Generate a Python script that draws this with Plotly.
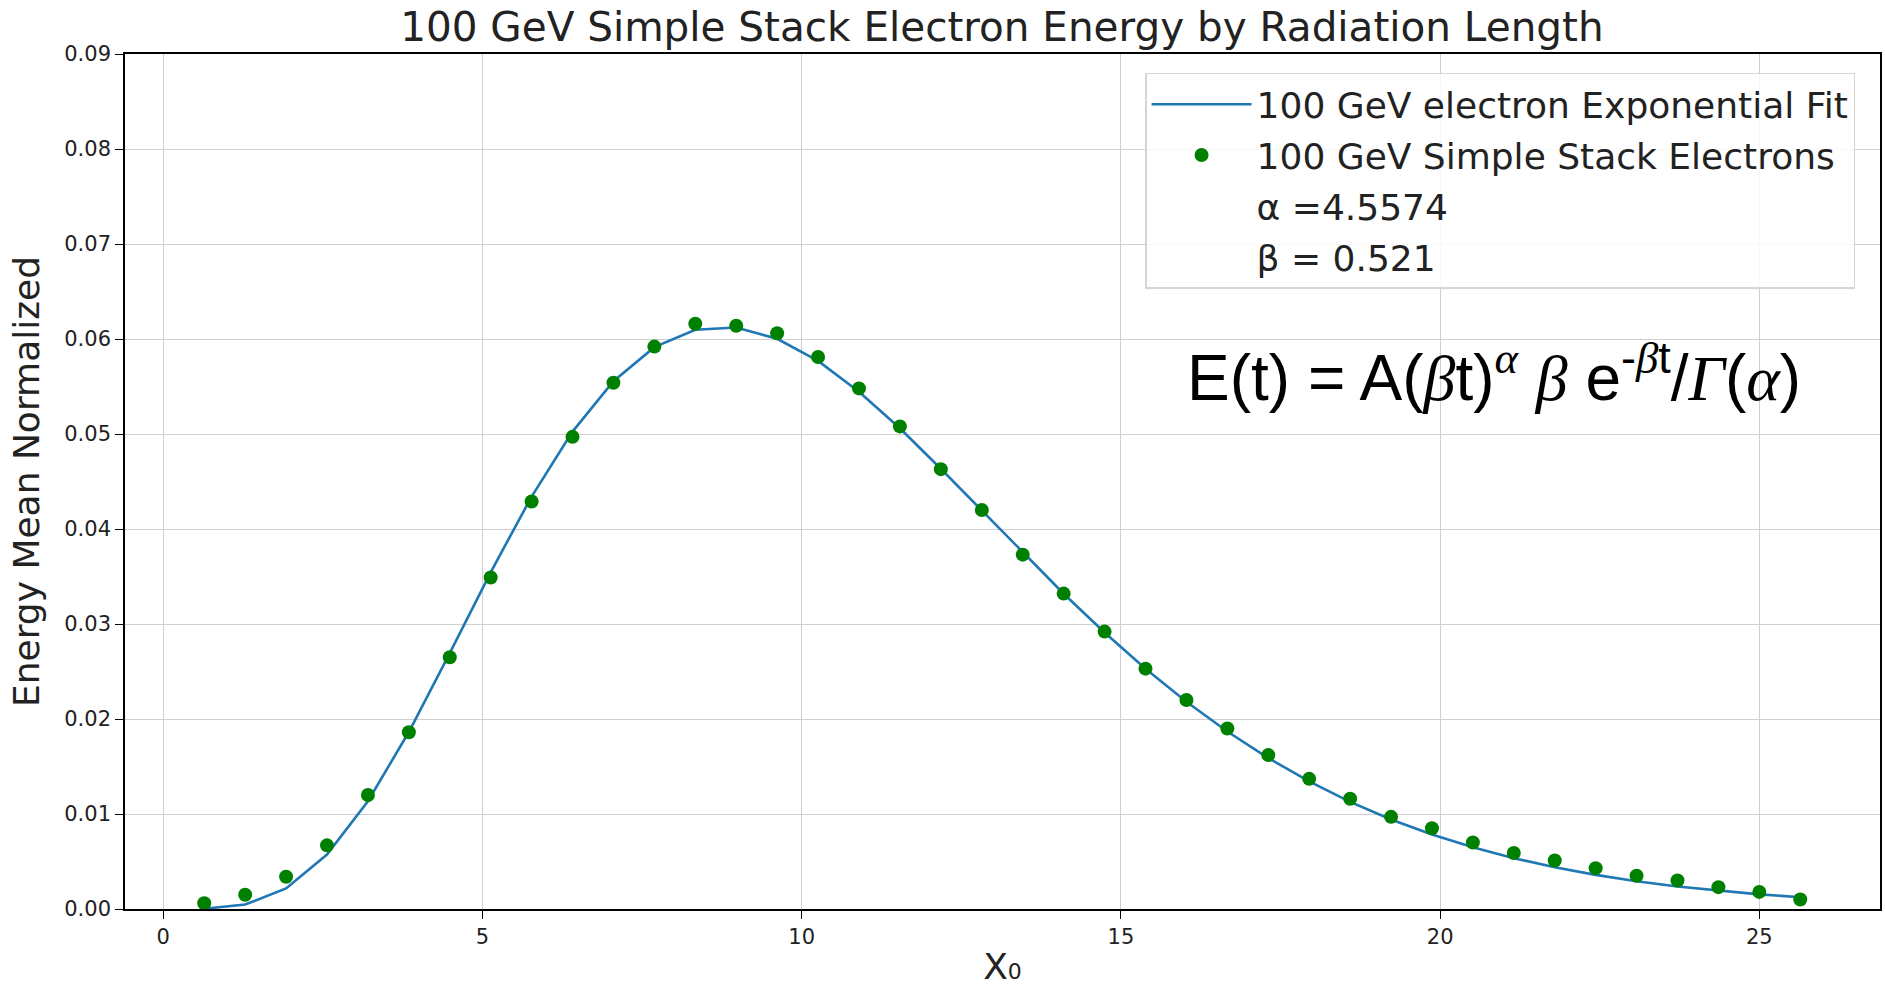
import plotly.graph_objects as go

# Data
x_depth = [0.641, 1.282, 1.923, 2.564, 3.205, 3.846, 4.487, 5.128, 5.769, 6.410,
           7.051, 7.692, 8.333, 8.974, 9.615, 10.256, 10.897, 11.538, 12.179, 12.821,
           13.462, 14.103, 14.744, 15.385, 16.026, 16.667, 17.308, 17.949, 18.590, 19.231,
           19.872, 20.513, 21.154, 21.795, 22.436, 23.077, 23.718, 24.359, 25.000, 25.641]

energy_data = [0.0006, 0.0015, 0.0034, 0.0067, 0.0120, 0.0186, 0.0265, 0.0349, 0.0429, 0.0497,
               0.0554, 0.0592, 0.0616, 0.0614, 0.0606, 0.0581, 0.0548, 0.0508, 0.0463, 0.0420,
               0.0373, 0.0332, 0.0292, 0.0253, 0.0220, 0.0190, 0.0162, 0.0137, 0.0116, 0.0097,
               0.0085, 0.0070, 0.0059, 0.0051, 0.0043, 0.0035, 0.0030, 0.0023, 0.0018, 0.0010]

energy_fit = [0.00003, 0.00047, 0.00216, 0.00573, 0.01134, 0.01863, 0.02693, 0.03544, 0.04341, 0.05025,
              0.05556, 0.05914, 0.06097, 0.06121, 0.06002, 0.05769, 0.05445, 0.05061, 0.04634, 0.04192,
              0.03749, 0.03319, 0.02910, 0.02529, 0.02182, 0.01868, 0.01589, 0.01343, 0.01128, 0.00943,
              0.00785, 0.00649, 0.00535, 0.00439, 0.00359, 0.00292, 0.00237, 0.00192, 0.00154, 0.00124]

x_ticks = [0, 5, 10, 15, 20, 25]
y_ticks = [0.00, 0.01, 0.02, 0.03, 0.04, 0.05, 0.06, 0.07, 0.08, 0.09]

fit_name = "100 GeV electron Exponential Fit"
data_name = "100 GeV Simple Stack Electrons"
alpha_label = "\u03b1 =4.5574"
beta_label = "\u03b2 = 0.521"

fig = go.Figure()
fig.add_trace(go.Scatter(x=x_depth, y=energy_fit, mode="lines", name=fit_name,
                         line=dict(color="#1f77b4", width=2.6), legendgroup="a"))
fig.add_trace(go.Scatter(x=x_depth, y=energy_data, mode="markers", name=data_name,
                         marker=dict(color="#008000", size=14), legendgroup="b"))
fig.add_trace(go.Scatter(x=[None], y=[None], mode="lines", name=alpha_label,
                         line=dict(color="rgba(0,0,0,0)"), legendgroup="c"))
fig.add_trace(go.Scatter(x=[None], y=[None], mode="lines", name=beta_label,
                         line=dict(color="rgba(0,0,0,0)"), legendgroup="d"))

axis_common = dict(showline=True, linecolor="black", linewidth=1.6, mirror=True,
                   ticks="outside", ticklen=8, tickwidth=1.4, tickcolor="black",
                   showgrid=True, gridcolor="#cfcfcf", gridwidth=1.3, zeroline=False,
                   automargin=False,
                   tickfont=dict(family="DejaVu Sans", size=21, color="#222222"))

fig.update_xaxes(range=[-0.6, 26.89], tickvals=x_ticks, **axis_common,
                 title=dict(text="X<span style='font-size:22px'>0</span>",
                            font=dict(family="DejaVu Sans", size=36, color="#222222"),
                            standoff=15))
fig.update_yaxes(range=[0, 0.09], tickvals=y_ticks, tickformat=".2f", **axis_common,
                 title=dict(text="Energy Mean Normalized",
                            font=dict(family="DejaVu Sans", size=36, color="#222222"), standoff=14))

g = "<span style=\"font-family:'Liberation Serif'\"><i>%s</i></span>"
formula = ("E(t) = A(" + g % "\u03b2" + "t)<sup>" + g % "\u03b1" + "</sup> " + g % "\u03b2"
           + " e<sup>-" + g % "\u03b2" + "t</sup>/" + g % "\u0393" + "(" + g % "\u03b1" + ")")
fig.add_annotation(
    text=formula,
    xref="paper", yref="paper", x=0.604, y=0.627, xanchor="left", yanchor="middle",
    showarrow=False, font=dict(family="Liberation Sans", size=64, color="black"))

fig.update_layout(
    width=1885, height=987,
    margin=dict(l=125, r=5, t=54, b=78),
    paper_bgcolor="white", plot_bgcolor="white",
    title=dict(text="100 GeV Simple Stack Electron Energy by Radiation Length",
               x=0.5315, xanchor="center", y=0.973, yanchor="middle",
               font=dict(family="DejaVu Sans", size=40.5, color="#222222")),
    legend=dict(x=0.9858, y=0.978, xanchor="right", yanchor="top",
                bgcolor="rgba(255,255,255,0.85)", bordercolor="#d5d5d5", borderwidth=1.5,
                font=dict(family="DejaVu Sans", size=36, color="#222222"),
                traceorder="grouped", tracegroupgap=1, itemwidth=100),
    showlegend=True,
)

fig.write_html("out.html")
